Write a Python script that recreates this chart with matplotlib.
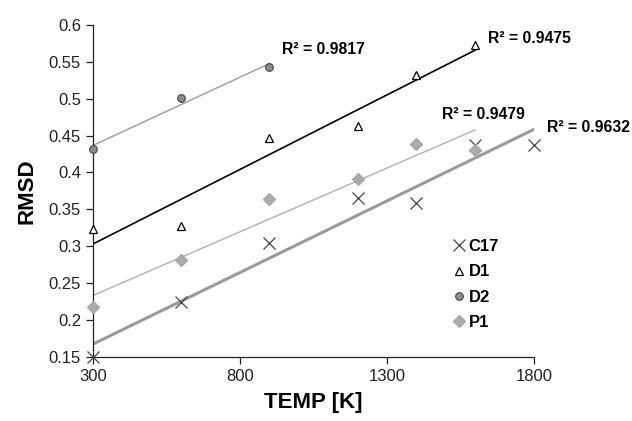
import numpy as np
import matplotlib
matplotlib.use("Agg")
import matplotlib.pyplot as plt

plt.rcParams["font.family"] = ["Liberation Sans", "DejaVu Sans"]

# data
c17_x = [300, 600, 900, 1200, 1400, 1600, 1800]
c17_y = [0.150, 0.224, 0.305, 0.366, 0.359, 0.437, 0.437]
d1_x = [300, 600, 900, 1200, 1400, 1600]
d1_y = [0.324, 0.328, 0.447, 0.463, 0.532, 0.573]
d2_x = [300, 600, 900]
d2_y = [0.432, 0.501, 0.543]
p1_x = [300, 600, 900, 1200, 1400, 1600]
p1_y = [0.218, 0.282, 0.364, 0.391, 0.439, 0.431]

r2_labels = ["R\u00b2 = 0.9817", "R\u00b2 = 0.9475", "R\u00b2 = 0.9479", "R\u00b2 = 0.9632"]
r2_pos = [(943, 0.566), (1643, 0.582), (1487, 0.478), (1844, 0.461)]


def trend(ax, x, y, color, lw):
    k, b = np.polyfit(x, y, 1)
    xs = np.array([min(x), max(x)])
    ax.plot(xs, k * xs + b, color=color, lw=lw, zorder=2)


fig = plt.figure(figsize=(6.32, 4.21), dpi=100)
ax = fig.add_axes([0.147, 0.152, 0.698, 0.789])

trend(ax, d2_x, d2_y, "#9a9a9a", 1.0)
trend(ax, d1_x, d1_y, "#000000", 1.2)
trend(ax, p1_x, p1_y, "#b0b0b0", 1.0)
trend(ax, c17_x, c17_y, "#9a9a9a", 2.2)

ax.plot(c17_x, c17_y, "x", color="#444444", ms=9, mew=0.9, ls="none",
        label="C17", clip_on=False, zorder=4)
ax.plot(d1_x, d1_y, "^", mfc="white", mec="black", ms=5.5, mew=0.9, ls="none",
        label="D1", clip_on=False, zorder=4)
ax.plot(d2_x, d2_y, "o", mfc="#8c8c8c", mec="#444444", ms=5.5, mew=0.8, ls="none",
        label="D2", clip_on=False, zorder=4)
ax.plot(p1_x, p1_y, "D", mfc="#aaaaaa", mec="#aaaaaa", ms=6.5, ls="none",
        label="P1", clip_on=False, zorder=4)

for txt, (tx, ty) in zip(r2_labels, r2_pos):
    ax.text(tx, ty, txt, fontsize=11.3, fontweight="bold", va="center", ha="left")

ax.set_xlim(300, 1800)
ax.set_ylim(0.15, 0.6)
ax.set_xticks([300, 800, 1300, 1800])
ax.set_yticks(np.arange(0.15, 0.601, 0.05))
ax.set_yticklabels(["0.15", "0.2", "0.25", "0.3", "0.35", "0.4", "0.45", "0.5", "0.55", "0.6"])
ax.tick_params(labelsize=12, direction="out", length=5, width=0.9, colors="#222222")
ax.spines["top"].set_visible(False)
ax.spines["right"].set_visible(False)
for s in ("left", "bottom"):
    ax.spines[s].set_color("#222222")
    ax.spines[s].set_linewidth(0.9)

ax.set_xlabel("TEMP [K]", fontsize=16, fontweight="bold", labelpad=6)
ax.set_ylabel("RMSD", fontsize=16, fontweight="bold", labelpad=8)

leg = ax.legend(loc="upper left", bbox_to_anchor=(0.78, 0.40), frameon=False,
                handlelength=0.8, handletextpad=0.2, labelspacing=0.62,
                prop={"weight": "bold", "size": 12})

fig.savefig("out.png", dpi=100)
